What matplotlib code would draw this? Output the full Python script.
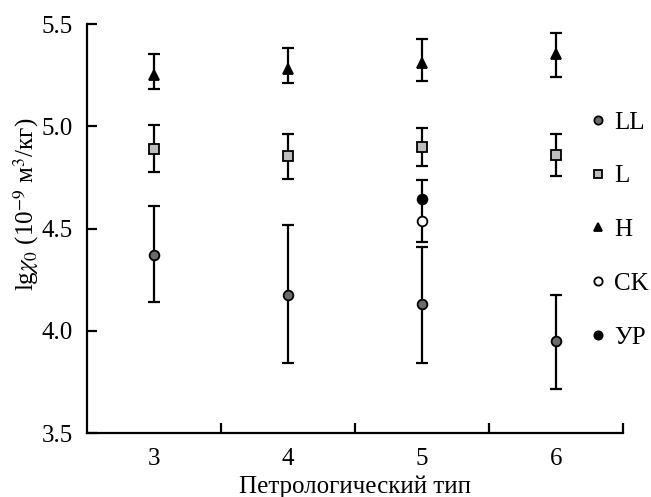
import numpy as np
import matplotlib
matplotlib.use("Agg")
from matplotlib import pyplot as plt
from matplotlib.ticker import FixedLocator

plt.rcParams['font.family'] = ['Liberation Serif', 'DejaVu Serif']
plt.rcParams['mathtext.fontset'] = 'stix'

# Data: petrologic type vs lg(chi0)
types = [3, 4, 5, 6]
type_labels = ['3', '4', '5', '6']

ll_val = [4.37, 4.175, 4.13, 3.95]
ll_lo = [4.14, 3.84, 3.84, 3.715]
ll_hi = [4.61, 4.515, 4.41, 4.175]

l_val = [4.89, 4.855, 4.897, 4.86]
l_lo = [4.775, 4.74, 4.808, 4.755]
l_hi = [5.005, 4.962, 4.993, 4.96]

h_val = [5.25, 5.28, 5.31, 5.355]
h_lo = [5.183, 5.212, 5.222, 5.242]
h_hi = [5.355, 5.382, 5.425, 5.457]

ck_x = [5]
ck_val = [4.535]
ur_x = [5]
ur_val = [4.645]
ur_lo = [4.435]
ur_hi = [4.738]

series = [
    ("LL", types, ll_val, ll_lo, ll_hi, 'o', '#6b6b6b', 'black'),
    ("L", types, l_val, l_lo, l_hi, 's', '#bdbdbd', 'black'),
    ("H", types, h_val, h_lo, h_hi, '^', 'black', 'black'),
]

FS = 18

fig = plt.figure(figsize=(6.51, 4.97), dpi=100)
ax = fig.add_axes([87/651, 1-433/497, (623-87)/651, (433-24)/497])

handles = {}
for name, x, v, lo, hi, mk, fc, ec in series:
    v = np.array(v)
    yerr = [v - np.array(lo), np.array(hi) - v]
    ax.errorbar(x, v, yerr=yerr, fmt='none', ecolor='black', elinewidth=1.6,
                capsize=4, capthick=1.6, zorder=2)
    handles[name] = ax.plot(x, v, linestyle='none', marker=mk, markersize=7,
                            markerfacecolor=fc, markeredgecolor=ec,
                            markeredgewidth=1.3, zorder=3, label=name)[0]

# УР bar spans both УР and СК points
urv = np.array(ur_val)
ax.errorbar(ur_x, urv, yerr=[urv - np.array(ur_lo), np.array(ur_hi) - urv],
            fmt='none', ecolor='black', elinewidth=1.6, capsize=4, capthick=1.6, zorder=2)
handles["CK"] = ax.plot(ck_x, ck_val, linestyle='none', marker='o', markersize=7,
                        markerfacecolor='white', markeredgecolor='black',
                        markeredgewidth=1.3, zorder=3, label="CK")[0]
handles["УР"] = ax.plot(ur_x, ur_val, linestyle='none', marker='o', markersize=7,
                        markerfacecolor='black', markeredgecolor='black',
                        markeredgewidth=1.3, zorder=3, label="УР")[0]

ax.set_xlim(2.5, 6.5)
ax.set_ylim(3.5, 5.5)

for s in ['top', 'right']:
    ax.spines[s].set_visible(False)
for s in ['left', 'bottom']:
    ax.spines[s].set_linewidth(1.6)

ax.xaxis.set_major_locator(FixedLocator([3.5, 4.5, 5.5, 6.5]))
ax.xaxis.set_minor_locator(FixedLocator(types))
ax.set_xticklabels([], minor=False)
ax.set_xticklabels(type_labels, minor=True)
ax.tick_params(axis='x', which='major', direction='in', length=7, width=1.6)
ax.tick_params(axis='x', which='minor', length=0, pad=11, labelsize=FS)

ax.set_yticks([3.5, 4.0, 4.5, 5.0, 5.5])
ax.set_yticklabels(['3.5', '4.0', '4.5', '5.0', '5.5'])
ax.tick_params(axis='y', direction='in', length=7, width=1.6, labelsize=FS, pad=10)

ax.set_xlabel("Петрологический тип", fontsize=FS, labelpad=4)
ax.set_ylabel(r"lg$\chi_0$ (10$^{-9}$ м$^3$/кг)", fontsize=FS)
ax.yaxis.set_label_coords(-0.085, 0.56)

order = ["LL", "L", "H", "CK", "УР"]
ax.legend([handles[k] for k in order], order, loc='center left',
          bbox_to_anchor=(590/651, 1-230/497), bbox_transform=fig.transFigure,
          frameon=False, fontsize=FS, handlelength=0.6, handletextpad=0.35,
          labelspacing=1.25, borderpad=0, borderaxespad=0, markerscale=0.85)

fig.savefig("out.png", dpi=100)
